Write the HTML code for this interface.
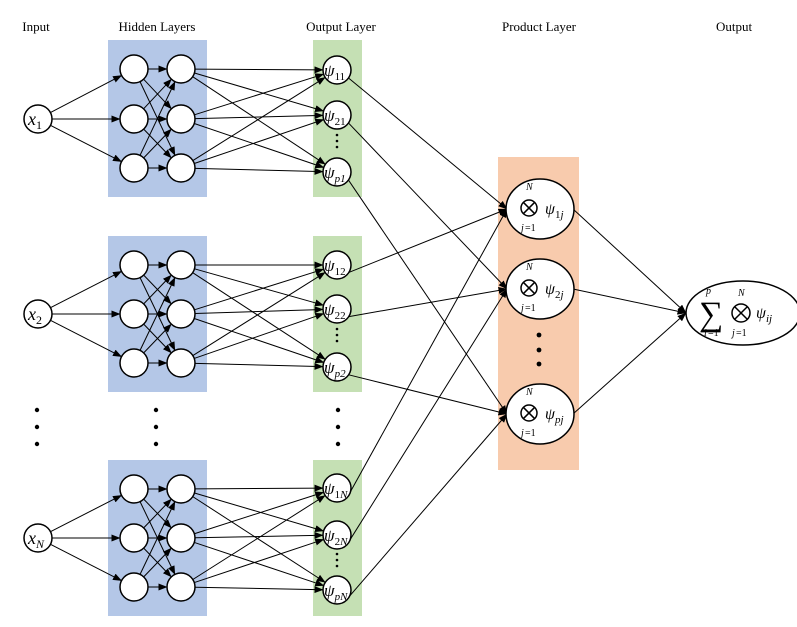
<!DOCTYPE html>
<html><head><meta charset="utf-8"><style>
html,body{margin:0;padding:0;background:#fff;}
svg{display:block;font-family:"Liberation Serif",serif;}
.i{font-style:italic;}
</style></head><body>
<svg id="s" width="797" height="627" viewBox="0 0 797 627" xmlns="http://www.w3.org/2000/svg">
<defs><marker id="a" markerWidth="9" markerHeight="7" refX="8.5" refY="3.5" orient="auto" markerUnits="userSpaceOnUse"><path d="M0,0 L9,3.5 L0,7 z" fill="#000"/></marker></defs>
<g font-size="13" text-anchor="middle">
<text x="36" y="31">Input</text>
<text x="157" y="31">Hidden Layers</text>
<text x="341" y="31">Output Layer</text>
<text x="539" y="31">Product Layer</text>
<text x="734" y="31">Output</text>
</g>
<rect x="108" y="40" width="99" height="157" fill="#b4c7e7"/>
<rect x="108" y="236" width="99" height="156" fill="#b4c7e7"/>
<rect x="108" y="460" width="99" height="156" fill="#b4c7e7"/>
<rect x="313" y="40" width="49" height="157" fill="#c5e0b4"/>
<rect x="313" y="236" width="49" height="156" fill="#c5e0b4"/>
<rect x="313" y="460" width="49" height="156" fill="#c5e0b4"/>
<rect x="498" y="157" width="81" height="313" fill="#f8cbad"/>
<g id="lines" stroke="#000" stroke-width="1" fill="none"></g>
<g id="nodes" stroke="#000" stroke-width="1.5" fill="#fff"></g>
<g id="labels" font-size="18">
<text x="28" y="125" class="i">x<tspan font-size="12" font-style="normal" dy="4">1</tspan></text>
<text x="28" y="320" class="i">x<tspan font-size="12" font-style="normal" dy="4">2</tspan></text>
<text x="28" y="544" class="i">x<tspan font-size="12" dy="4">N</tspan></text>
<g font-size="17">
<text x="324" y="76" class="i">ψ<tspan font-size="11" font-style="normal" dy="4">11</tspan></text>
<text x="324" y="121" class="i">ψ<tspan font-size="11" font-style="normal" dy="4">21</tspan></text>
<text x="324" y="178" class="i">ψ<tspan font-size="11" dy="4">p1</tspan></text>
<text x="324" y="271" class="i">ψ<tspan font-size="11" font-style="normal" dy="4">12</tspan></text>
<text x="324" y="315" class="i">ψ<tspan font-size="11" font-style="normal" dy="4">22</tspan></text>
<text x="324" y="373" class="i">ψ<tspan font-size="11" dy="4">p2</tspan></text>
<text x="324" y="494" class="i">ψ<tspan font-size="11" font-style="normal" dy="4">1</tspan><tspan font-size="11" dy="0">N</tspan></text>
<text x="324" y="541" class="i">ψ<tspan font-size="11" font-style="normal" dy="4">2</tspan><tspan font-size="11" dy="0">N</tspan></text>
<text x="324" y="596" class="i">ψ<tspan font-size="11" dy="4">pN</tspan></text>
</g>
</g>
<g fill="#000">
<circle cx="37" cy="410" r="2.2"/><circle cx="37" cy="427" r="2.2"/><circle cx="37" cy="444" r="2.2"/>
<circle cx="156" cy="410" r="2.2"/><circle cx="156" cy="427" r="2.2"/><circle cx="156" cy="444" r="2.2"/>
<circle cx="338" cy="410" r="2.2"/><circle cx="338" cy="427" r="2.2"/><circle cx="338" cy="444" r="2.2"/>
<circle cx="539" cy="335" r="2.4"/><circle cx="539" cy="350" r="2.4"/><circle cx="539" cy="364" r="2.4"/>
<circle cx="337" cy="135" r="1.3"/><circle cx="337" cy="141" r="1.3"/><circle cx="337" cy="147" r="1.3"/>
<circle cx="337" cy="329" r="1.3"/><circle cx="337" cy="335" r="1.3"/><circle cx="337" cy="341" r="1.3"/>
<circle cx="337" cy="554" r="1.3"/><circle cx="337" cy="560" r="1.3"/><circle cx="337" cy="566" r="1.3"/>
</g>
<g font-size="10">
<text x="526" y="190" class="i">N</text><text x="521" y="231" class="i">j</text><text x="525" y="231">=1</text>
<text x="526" y="270" class="i">N</text><text x="521" y="311" class="i">j</text><text x="525" y="311">=1</text>
<text x="526" y="395" class="i">N</text><text x="521" y="436" class="i">j</text><text x="525" y="436">=1</text>
<text x="706" y="294" class="i">p</text><text x="738" y="296" class="i">N</text>
<text x="704" y="336" class="i">i</text><text x="708" y="336">=1</text>
<text x="732" y="336" class="i">j</text><text x="736" y="336">=1</text>
</g>
<g font-size="16">
<text x="545" y="214" class="i">ψ<tspan font-size="11" font-style="normal" dy="4">1</tspan><tspan font-size="11" class="i">j</tspan></text>
<text x="545" y="294" class="i">ψ<tspan font-size="11" font-style="normal" dy="4">2</tspan><tspan font-size="11" class="i">j</tspan></text>
<text x="545" y="419" class="i">ψ<tspan font-size="11" dy="4">pj</tspan></text>
<text x="756" y="318" class="i">ψ<tspan font-size="11" dy="4">ij</tspan></text>
<text x="699" y="325" font-size="34">∑</text>
</g>
</svg>
<script>
var NS="http://www.w3.org/2000/svg";
function el(p,t,a){var e=document.createElementNS(NS,t);for(var k in a)e.setAttribute(k,a[k]);document.getElementById(p).appendChild(e);return e;}
function line(x1,y1,x2,y2,arr){var a={x1:x1,y1:y1,x2:x2,y2:y2};if(arr)a["marker-end"]="url(#a)";el("lines","line",a);}
function edge(x1,y1,r1,x2,y2,r2,arr){var dx=x2-x1,dy=y2-y1,d=Math.hypot(dx,dy);line(x1+dx/d*r1,y1+dy/d*r1,x2-dx/d*r2,y2-dy/d*r2,arr);}
var blocks=[{x:119,h:[69,119,168],o:[70,115,172]},{x:314,h:[265,314,363],o:[265,309,367]},{x:538,h:[489,538,587],o:[488,535,590]}];
var P=[209,289,414],pcx=540,rx=34,ry=30;
var R=14,c1=134,c2=181,oc=337;
blocks.forEach(function(b,bi){
 el("nodes","circle",{cx:38,cy:b.x,r:14});
 b.h.forEach(function(y){edge(38,b.x,14,c1,y,R,true);});
 b.h.forEach(function(y1){b.h.forEach(function(y2){edge(c1,y1,R,c2,y2,R,true);});});
 b.h.forEach(function(y1){b.o.forEach(function(y2){edge(c2,y1,R,oc,y2,R,true);});});
 b.h.forEach(function(y){el("nodes","circle",{cx:c1,cy:y,r:R});el("nodes","circle",{cx:c2,cy:y,r:R});});
 b.o.forEach(function(y,k){el("nodes","circle",{cx:oc,cy:y,r:R});
  var sx=oc+R*0.8,sy=y+R*0.55;line(sx,sy,pcx-rx+1,P[k],true);});
});
P.forEach(function(y){line(pcx+rx-1,y,686,313,true);});
P.forEach(function(y){el("nodes","ellipse",{cx:pcx,cy:y,rx:rx,ry:ry});
 el("nodes","circle",{cx:529,cy:y-1,r:8});
 el("nodes","line",{x1:523.3,y1:y-6.7,x2:534.7,y2:y+4.7});el("nodes","line",{x1:534.7,y1:y-6.7,x2:523.3,y2:y+4.7});});
el("nodes","ellipse",{cx:743,cy:313,rx:57,ry:32});
var y=313;el("nodes","circle",{cx:741,cy:y,r:9});
el("nodes","line",{x1:734.6,y1:y-6.4,x2:747.4,y2:y+6.4});el("nodes","line",{x1:747.4,y1:y-6.4,x2:734.6,y2:y+6.4});
</script>
</body></html>
